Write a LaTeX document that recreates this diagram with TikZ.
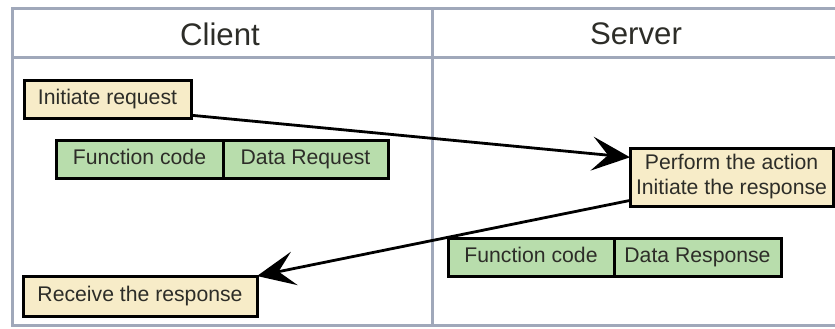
\documentclass[tikz,border=0pt]{standalone}
\usepackage{fontspec}
\setmainfont{Liberation Sans}
\usepackage{tikz}
\usetikzlibrary{arrows.meta,positioning}
\usepackage{xcolor}
\definecolor{stepTan}{RGB}{247,236,200}
\definecolor{fieldGreen}{RGB}{184,221,172}
\definecolor{frameGray}{RGB}{160,168,186}
\definecolor{textDark}{RGB}{45,45,40}

\begin{document}
\begin{tikzpicture}[
    x=0.5pt, y=-0.5pt,
    task/.style={rectangle, draw=black, line width=1.5pt, fill=stepTan, text=textDark, inner sep=0pt, outer sep=0pt, align=center, font=\fontsize{10.6}{12.5}\selectfont},
    field/.style={rectangle, draw=black, line width=1.5pt, fill=fieldGreen, text=textDark, inner sep=0pt, outer sep=0pt, minimum height=19pt, text height=0.72em, text depth=0.22em, font=\fontsize{10.6}{12.5}\selectfont},
    header/.style={text=textDark, font=\fontsize{15.6}{18}\selectfont},
    flow/.style={-{Stealth[length=19pt, width=17pt, inset=8pt]}, line width=1.4pt}
]
\useasboundingbox (0,0) rectangle (835,328);

% Swimlane frame
\draw[frameGray, line width=1.5pt] (835,8) -- (12,8) -- (12,325) -- (835,325);
\draw[frameGray, line width=1.5pt] (12,57) -- (835,57);
\draw[frameGray, line width=1.5pt] (432,8) -- (432,325);

% Lane titles
\node[header] (client) at (220,34) {Client};
\node[header] (server) at (636,34) {Server};

% Client side
\node[task, minimum width=83.5pt, minimum height=19pt] (initreq) at (107.5,99) {Initiate request};
\node[field, minimum width=83.5pt] (fcreq) at (139.5,159) {Function code};
\node[field, minimum width=82.5pt, right=0pt of fcreq] (datareq) {Data Request};
\node[task, minimum width=117pt, minimum height=20pt] (receive) at (140,296) {Receive the response};

% Server side
\node[task, minimum width=101.5pt, minimum height=29pt] (perform) at (731.5,177) {Perform the action\\Initiate the response};
\node[field, minimum width=83pt] (fcresp) at (531,257.5) {Function code};
\node[field, minimum width=83.5pt, right=0pt of fcresp] (dataresp) {Data Response};

% Request and response
\draw[flow] (initreq.-11) -- (perform.169);
\draw[flow] (perform.193) -- (receive.north east);

\end{tikzpicture}
\end{document}
